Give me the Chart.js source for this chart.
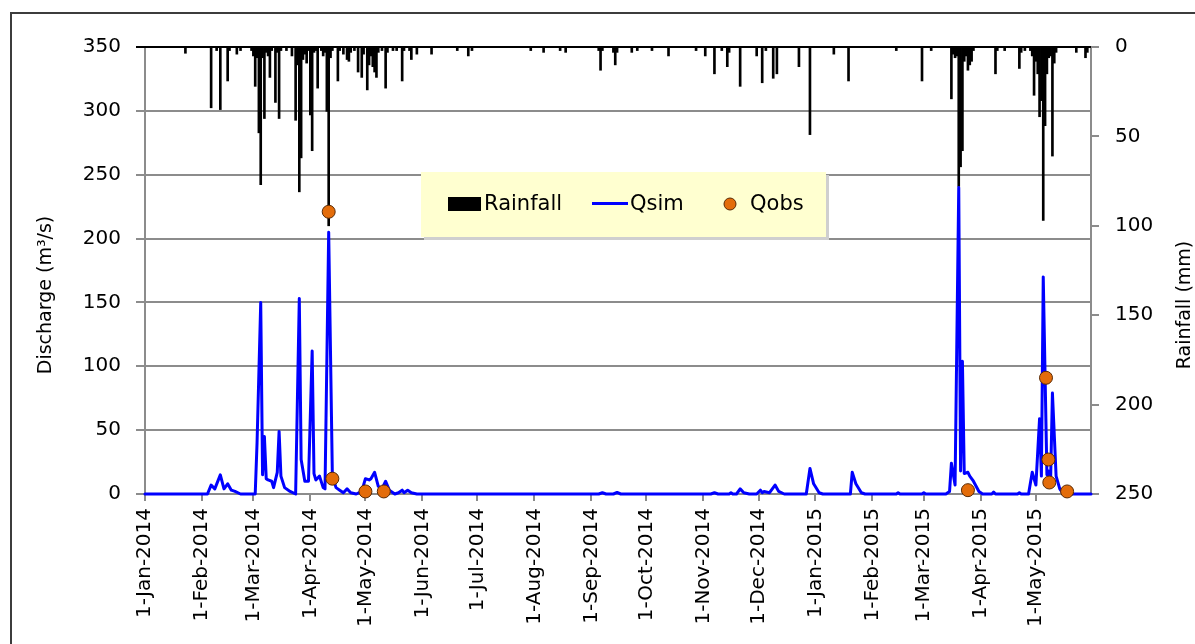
<!DOCTYPE html>
<html><head><meta charset="utf-8">
<script src="https://cdn.jsdelivr.net/npm/chart.js@4.4.1/dist/chart.umd.min.js"></script>
<style>html,body{margin:0;padding:0;background:#fff;overflow:hidden}canvas{display:block}</style>
</head><body>
<canvas id="c" width="1195" height="644"></canvas>
<script>
// ---- DATA (day index counted from 1-Jan-2014 = 0) ----
const monthDays   = [0,31,59,90,120,151,181,212,243,273,304,334,365,396,424,455,485];
const monthLabels = ['1-Jan-2014','1-Feb-2014','1-Mar-2014','1-Apr-2014','1-May-2014','1-Jun-2014',
                     '1-Jul-2014','1-Aug-2014','1-Sep-2014','1-Oct-2014','1-Nov-2014','1-Dec-2014',
                     '1-Jan-2015','1-Feb-2015','1-Mar-2015','1-Apr-2015','1-May-2015'];

const rainDay = [22,36,39,41,45,46,50,52,
  58,59,60,61,62,63,64,65,66,67,68,69,71,72,73,74,77,80,
  82,83,84,85,86,87,88,89,90,91,92,93,94,96,97,98,99,100,101,102,
  105,106,108,110,111,112,114,116,118,119,121,122,123,124,125,126,127,129,131,132,135,137,140,141,144,145,148,156,170,
  176,178,210,217,226,229,247,248,249,255,256,257,265,268,276,285,300,305,310,314,317,318,324,333,
  336,338,342,344,356,362,375,383,409,423,428,
  439,440,441,442,443,444,445,446,447,448,449,450,451,463,464,468,476,477,479,
  482,483,484,485,486,487,488,489,490,491,492,493,494,495,496,507,512,513];
const rainMm = [3.5,34,2,35,19,2,4,2,
  2,5,22,6,48,77,6,40,3,5,17,2,31,3,40,2,2,5,
  41,10,81,62,7,4,9,2,38,58,3,2,23,2,5,3,36,100,6,2,
  19,2,4,7,8,3,2,14,17,4,24,10,5,11,14,17,3,2,23,3,2,2,19,2,2,7,4,4,2,
  5,2,2,3,2,3,2,13,2,3,10,3,3,2,2,5,2,5,15,2,11,3,22,5,
  20,2,17.5,15,11,49,4,19,2,19,2,
  29,4,6,5,78,67,58,8,5,13,10,8,2,15,2,2,12,3,2,
  2,5,27,8,15,39,30,97,44,15,6,5,61,9,3,3,6,3];

const qsimDay = [0,34,36,38,41,43,45,47,49,52,
  60,61,63,64,65,66,67,69,70,72,73,74,76,79,82,
  84,85,87,89,91,92,93,95,97,98,100,102,104,106,108,110,112,115,118,120,122,123,125,127,129,131,133,136,138,140,141,143,145,148,
  247,249,251,255,257,259,
  308,310,312,318,319,320,322,324,326,329,333,335,336,337,340,343,345,348,
  360,362,364,367,369,384,385,387,390,392,409,410,411,423,424,425,
  436,438,439,441,443,444,445,446,448,449,451,454,456,
  461,462,463,475,476,477,481,483,485,487,488,489,491,492,493,494,496,498,500,515];
const qsimVal = [0,0,7,4,15,4,8,3,2,0,
  0,40,150,15,45,12,11,10,5,17,49,14,5,2,0,
  153,27,10,10,112,16,11,14,5,4,205,14,5,3,1,4,1,0,2,12,11,12,17,6,4,10,3,0,1,3,1,3,1,0,
  0,1,0,0,1.2,0,
  0,1,0,0,1,0,0,4,1,0,0,3,1,2,1,7,2,0,
  0,20,8,1,0,0,17,8,1,0,0,1,0,0,1,0,
  0,2,24,7,240,18,104,16,17,14,10,2,0,
  0,1.5,0,0,1,0,0,17,7,59,14,170,15,18,10,79,14,4,0,0];

const qobsDay = [100,102,120,130,448,490.5,491.8,492.3,502];
const qobsVal = [221,12,2,2,3,91,27,9,2];

// ---- helpers ----
const FONT = '"DejaVu Sans", sans-serif';
const pts = (xs, ys) => xs.map((x, i) => ({x: x, y: ys[i]}));
const GRID = '#8c8c8c';

const decor = {
  id: 'decor',
  beforeDraw(chart) {
    const c = chart.ctx;
    c.save();
    c.fillStyle = '#fff';
    c.fillRect(0, 0, chart.width, chart.height);
    c.fillStyle = '#3c3c3c';
    c.fillRect(10, 12, chart.width, 2);
    c.fillRect(10, 12, 2, chart.height);
    c.restore();
  },
  beforeDatasetsDraw(chart) {
    const c = chart.ctx;
    const ca = chart.chartArea;
    c.save();
    c.fillStyle = '#000';
    c.fillRect(Math.round(ca.left) - 9, Math.round(ca.top) - 1, Math.round(ca.right - ca.left) + 9, 2);
    c.restore();
  },
  afterDraw(chart) {
    const c = chart.ctx;
    c.save();
    c.fillStyle = '#000';
    c.font = '19px ' + FONT;
    c.textAlign = 'center';
    c.textBaseline = 'middle';
    c.translate(46, 295); c.rotate(-Math.PI / 2);
    c.fillText('Discharge (m³/s)', 0, 0);
    c.setTransform(1, 0, 0, 1, 0, 0);
    c.translate(1185, 305); c.rotate(-Math.PI / 2);
    c.fillText('Rainfall (mm)', 0, 0);
    c.setTransform(1, 0, 0, 1, 0, 0);

    const ds = chart.data.datasets;
    c.fillStyle = '#cfcfcf';
    c.fillRect(424, 175, 405, 65);
    c.fillStyle = '#FFFFD0';
    c.fillRect(421, 172, 405, 65);
    c.font = '21px ' + FONT;
    c.textAlign = 'left';
    c.fillStyle = '#000';
    c.fillRect(448, 197, 33, 14);
    c.fillText(ds[2].label, 484, 205);
    c.fillStyle = ds[1].borderColor;
    c.fillRect(592, 202, 36, 3);
    c.fillStyle = '#000';
    c.fillText(ds[1].label, 630, 205);
    c.fillStyle = ds[0].backgroundColor; c.strokeStyle = ds[0].borderColor; c.lineWidth = 1;
    c.beginPath(); c.arc(730, 204, 6, 0, Math.PI * 2); c.fill(); c.stroke();
    c.fillStyle = '#000';
    c.fillText(ds[0].label, 750, 205);
    c.restore();
  }
};

new Chart(document.getElementById('c'), {
  type: 'line',
  data: {
    datasets: [
      { type: 'line', label: 'Qobs', data: pts(qobsDay, qobsVal), yAxisID: 'y', order: 0,
        showLine: false, pointRadius: 6.5, pointBackgroundColor: '#E36C0A', backgroundColor: '#E36C0A',
        pointBorderColor: '#5a2a04', borderColor: '#5a2a04', pointBorderWidth: 1, clip: false },
      { type: 'line', label: 'Qsim', data: pts(qsimDay, qsimVal), yAxisID: 'y', order: 1,
        borderColor: '#0000FF', borderWidth: 3, pointRadius: 0, tension: 0, fill: false,
        borderJoinStyle: 'round', borderCapStyle: 'round', clip: false },
      { type: 'bar', label: 'Rainfall', data: pts(rainDay, rainMm), yAxisID: 'y2', order: 2,
        backgroundColor: '#000', borderWidth: 0, barThickness: 2 }
    ]
  },
  options: {
    responsive: false, animation: false, devicePixelRatio: 1,
    layout: { padding: { top: 47, left: 0, right: 0, bottom: 0 } },
    plugins: { legend: { display: false }, tooltip: { enabled: false } },
    scales: {
      x: {
        type: 'linear', min: 0, max: 515, offset: false,
        afterFit: s => { s.height = 150; },
        afterBuildTicks: s => { s.ticks = monthDays.map(v => ({ value: v })); },
        grid: { display: true, drawOnChartArea: false, drawTicks: true, tickLength: 7, color: GRID, lineWidth: 2, offset: false },
        border: { display: true, color: GRID, width: 2 },
        ticks: { autoSkip: false, minRotation: 90, maxRotation: 90, padding: 7, color: '#000',
                 font: { family: FONT, size: 20 },
                 callback: v => monthLabels[monthDays.indexOf(v)] }
      },
      y: {
        position: 'left', min: 0, max: 350,
        afterFit: s => { s.width = 145; },
        grid: { display: true, drawOnChartArea: true, drawTicks: true, color: GRID, lineWidth: 2, tickLength: 9 },
        border: { display: true, color: GRID, width: 2 },
        ticks: { stepSize: 50, padding: 15, color: '#000', font: { family: FONT, size: 20 } }
      },
      y2: {
        position: 'right', min: 0, max: 250, reverse: true,
        afterFit: s => { s.width = 104; },
        grid: { display: true, drawOnChartArea: false, drawTicks: true, tickLength: 8, color: GRID, lineWidth: 2 },
        border: { display: true, color: GRID, width: 2 },
        ticks: { stepSize: 50, padding: 16, color: '#000', font: { family: FONT, size: 20 } }
      }
    }
  },
  plugins: [decor]
});
</script>
</body></html>
